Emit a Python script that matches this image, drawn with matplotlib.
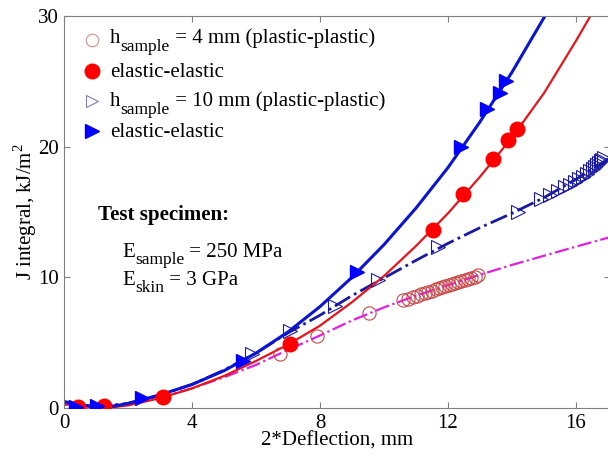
import matplotlib
matplotlib.use("Agg")
import matplotlib.pyplot as plt

plt.rcParams['font.family'] = ['Liberation Serif', 'DejaVu Serif']
plt.rcParams['mathtext.fontset'] = 'custom'
plt.rcParams['mathtext.rm'] = 'Liberation Serif'

# ---- data: h = 4 mm ----
p4_x = [6.75, 7.9, 9.53, 10.6, 10.75, 10.9, 11.02, 11.15, 11.27, 11.39, 11.5, 11.61,
        11.72, 11.82, 11.92, 12.02, 12.12, 12.22, 12.32, 12.42, 12.52, 12.62, 12.72,
        12.83, 12.95]
p4_y = [4.13, 5.5, 7.27, 8.26, 8.38, 8.5, 8.6, 8.7, 8.8, 8.9, 8.99, 9.08,
        9.17, 9.25, 9.33, 9.41, 9.49, 9.57, 9.65, 9.73, 9.81, 9.89, 9.97,
        10.06, 10.16]
e4_x = [0.44, 1.25, 3.09, 7.06, 11.53, 12.47, 13.4, 13.88, 14.16]
e4_y = [0.08, 0.15, 0.84, 4.9, 13.6, 16.37, 19.05, 20.5, 21.35]

# ---- data: h = 10 mm ----
p10_x = [5.87, 7.06, 8.47, 9.8, 11.7, 14.2, 14.9, 15.19, 15.44, 15.66, 15.81, 15.97,
         16.09, 16.22, 16.34, 16.44, 16.53, 16.59, 16.66, 16.72, 16.78, 16.81, 16.88]
p10_y = [4.1, 5.9, 7.8, 9.8, 12.3, 15.0, 16.0, 16.3, 16.6, 16.9, 17.1, 17.3,
         17.5, 17.7, 17.9, 18.1, 18.3, 18.45, 18.6, 18.75, 18.9, 19.0, 19.15]
e10_x = [0.38, 1.03, 2.44, 5.59, 9.16, 12.4, 13.22, 13.62, 13.81]
e10_y = [0.08, 0.15, 0.77, 3.6, 10.4, 19.97, 22.9, 24.1, 25.0]

# ---- fitted curves ----
fit_e4_x = [0, 0.5, 1, 1.5, 2, 3, 4, 5, 6, 7, 8, 9, 10, 11, 12, 13, 14, 15, 16, 16.45]
fit_e4_y = [0.4, 0.15, 0.05, 0.05, 0.2, 0.75, 1.5, 2.45, 3.6, 4.85, 6.3, 8.1, 10.1,
            12.4, 14.9, 17.7, 20.7, 24.1, 28.1, 30.0]
fit_e10_x = [0, 0.5, 1, 1.5, 2, 3, 4, 5, 6, 7, 8, 9, 10, 11, 12, 13, 14, 15.03]
fit_e10_y = [0.5, 0.25, 0.1, 0.1, 0.35, 1.0, 1.8, 2.85, 4.2, 5.82, 7.76, 10.0, 12.5,
             15.3, 18.4, 21.9, 25.7, 30.0]
fit_p4_x = [0, 1, 2, 3, 4, 5, 6, 7, 8, 9, 10, 11, 12, 13, 14, 15, 16, 17.1]
fit_p4_y = [0.25, 0.1, 0.3, 0.8, 1.5, 2.35, 3.3, 4.45, 5.55, 6.7, 7.7, 8.6, 9.4,
            10.2, 10.95, 11.65, 12.35, 13.1]
fit_p10_x = [0, 1, 2, 3, 4, 5, 6, 7, 8, 9, 10, 11, 12, 13, 14, 15, 16, 17.1]
fit_p10_y = [0.4, 0.1, 0.35, 1.0, 1.8, 2.9, 4.2, 5.75, 7.1, 8.6, 9.95, 11.3, 12.6,
             13.8, 14.9, 16.1, 17.5, 19.2]

xticks = [0, 4, 8, 12, 16]
yticks = [0, 10, 20, 30]

W, H = 608, 459
FS = 15
SUB = 12.5

fig = plt.figure(figsize=(W/100, H/100), dpi=100)
ax = fig.add_axes([64/W, 51/H, 546/W, 392/H])
ax.set_xlim(0, 546/32)
ax.set_ylim(0, 30)

red = '#e8141c'
blue = '#0a14d2'
navy = '#1a1aa0'
magenta = '#e020e0'
ored = '#c84848'

ax.plot(fit_p4_x, fit_p4_y, color=magenta, lw=1.6, ls='-.', zorder=2)
ax.plot(fit_p10_x, fit_p10_y, color=navy, lw=2.0, ls='-.', zorder=2)
ax.plot(fit_e4_x, fit_e4_y, color=red, lw=1.6, zorder=2)
ax.plot(fit_e10_x, fit_e10_y, color=blue, lw=2.2, zorder=2)

ax.plot(p4_x, p4_y, ls='none', marker='o', ms=9.5, mfc='none', mec=ored, mew=0.8, zorder=3)
ax.plot(p10_x, p10_y, ls='none', marker='>', ms=9.5, mfc='none', mec=navy, mew=0.8, zorder=3)
ax.plot(e4_x, e4_y, ls='none', marker='o', ms=10.5, mfc='#ff0000', mec='#ff0000', zorder=4)
ax.plot(e10_x, e10_y, ls='none', marker='>', ms=10.5, mfc='#0000ff', mec='#0000ff', zorder=5)

renderer = fig.canvas.get_renderer()


def rich(x_px, base_px, pieces, weight='normal'):
    x = x_px
    for s, size, dy in pieces:
        t = fig.text(x / W, 1 - (base_px + dy) / H, s, fontsize=size, va='baseline',
                     ha='left', fontweight=weight)
        x += t.get_window_extent(renderer).width


# manual legend
leg_marks = [
    dict(marker='o', ms=9, mfc='none', mec='#d09090', mew=0.8),
    dict(marker='o', ms=10.5, mfc='#ff0000', mec='#ff0000'),
    dict(marker='>', ms=9, mfc='none', mec='#8080b0', mew=0.8),
    dict(marker='>', ms=10.5, mfc='#0000ff', mec='#0000ff'),
]
mark_y = [39.5, 70.5, 100.5, 130.5]
base_y = [43, 77, 106, 137]
leg_texts = [
    [('h', FS, 0), ('sample', SUB, 8), (' = 4 mm (plastic-plastic)', FS, 0)],
    [('elastic-elastic', FS, 0)],
    [('h', FS, 0), ('sample', SUB, 8), (' = 10 mm (plastic-plastic)', FS, 0)],
    [('elastic-elastic', FS, 0)],
]
for mk, my, by, tx in zip(leg_marks, mark_y, base_y, leg_texts):
    fig.add_artist(plt.Line2D([92 / W], [1 - my / H], ls='none', transform=fig.transFigure, **mk))
    rich(110, by, tx)

rich(98, 220, [('Test specimen:', FS, 0)], weight='bold')
rich(122, 257, [('E', FS, 0), ('sample', SUB, 7), (' = 250 MPa', FS, 0)])
rich(122, 285, [('E', FS, 0), ('skin', SUB, 7), (' = 3 GPa', FS, 0)])

ax.set_xticks(xticks)
ax.set_yticks(yticks)
ax.tick_params(direction='in', top=True, right=True, labelsize=FS, length=4,
               color='#808080', pad=4)
for s in ax.spines.values():
    s.set_color('#808080')
    s.set_linewidth(0.8)
ax.set_xlabel('2*Deflection, mm', fontsize=FS, labelpad=-1)
ax.set_ylabel(r'J integral, kJ/m$^2$', fontsize=FS, labelpad=-1)

fig.savefig('out.png', dpi=100)
